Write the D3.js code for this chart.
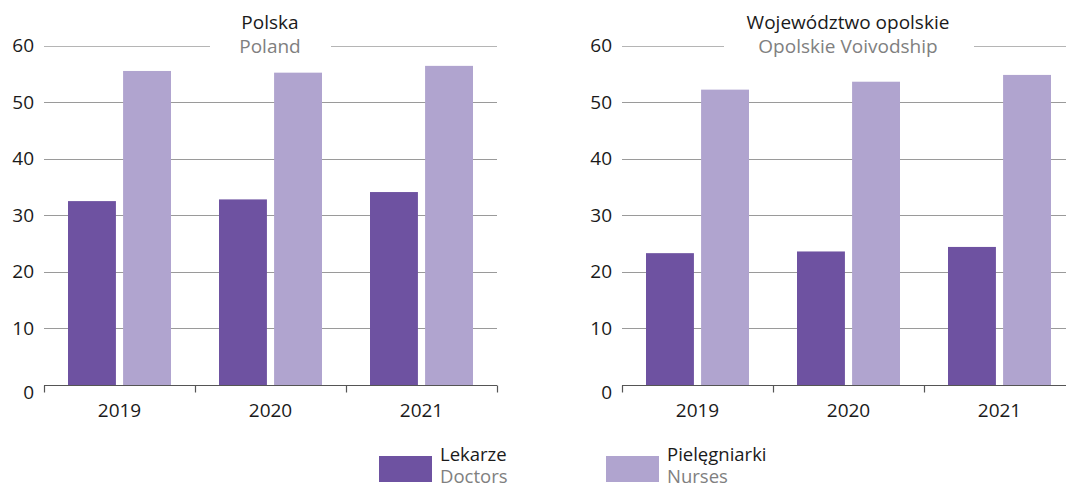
<!DOCTYPE html>
<html>
<head>
<meta charset="utf-8">
<script src="https://cdn.jsdelivr.net/npm/d3@7"></script>
<style>
  html, body { margin: 0; padding: 0; background: #fff; }
  svg { display: block; font-family: "Open Sans", "Noto Sans", sans-serif; }
</style>
</head>
<body>
<svg id="chart" width="1066" height="489"></svg>
<script>
// Years on the category axis
const years = ["2019", "2020", "2021"];
// Series keys and labels (Polish / English)
const seriesKeys = ["doctors", "nurses"];
const seriesLabelsPl = ["Lekarze", "Pielęgniarki"];
const seriesLabelsEn = ["Doctors", "Nurses"];
const seriesColors = ["#6e52a1", "#b0a4cf"];

// Poland
const polandDoctors = [32.5, 32.8, 34.1];
const polandNurses = [55.5, 55.2, 56.4];
// Opolskie Voivodship
const opolskieDoctors = [23.3, 23.6, 24.4];
const opolskieNurses = [52.2, 53.6, 54.8];

const yTicks = [0, 10, 20, 30, 40, 50, 60];

const FS = 19;

const panels = [
  { titlePl: "Polska", titleEn: "Poland", doctors: polandDoctors, nurses: polandNurses,
    x0: 44, x1: 497, gap: [210, 331], titleX: 270 },
  { titlePl: "Województwo opolskie", titleEn: "Opolskie Voivodship", doctors: opolskieDoctors, nurses: opolskieNurses,
    x0: 622, x1: 1075, gap: [724, 974], titleX: 848 }
];

const svg = d3.select("#chart");
const y = d3.scaleLinear().domain([0, 60]).range([385, 45.5]);

panels.forEach(p => {
  const g = svg.append("g");
  const x = d3.scaleBand().domain(years).range([p.x0, p.x1]).paddingInner(0).paddingOuter(0);
  const xs = d3.scaleBand().domain(seriesKeys).range([24, x.bandwidth() - 24]).paddingInner(0.13);

  // gridlines (the top one is broken around the title)
  yTicks.filter(t => t > 0).forEach(t => {
    const yy = Math.round(y(t)) + 0.5;
    if (t === 60) {
      g.append("line").attr("x1", p.x0).attr("x2", p.gap[0]).attr("y1", yy).attr("y2", yy)
        .attr("stroke", "#b5b5b5").attr("stroke-width", 1);
      g.append("line").attr("x1", p.gap[1]).attr("x2", p.x1).attr("y1", yy).attr("y2", yy)
        .attr("stroke", "#b5b5b5").attr("stroke-width", 1);
    } else {
      g.append("line").attr("x1", p.x0).attr("x2", p.x1).attr("y1", yy).attr("y2", yy)
        .attr("stroke", "#9a9a9a").attr("stroke-width", 1);
    }
  });

  // y tick labels
  g.selectAll(".ylab").data(yTicks).join("text")
    .attr("x", p.x0 - 10)
    .attr("y", d => y(d) + (d === 0 ? 7 : 0))
    .attr("dy", "0.35em")
    .attr("text-anchor", "end")
    .attr("font-size", FS)
    .attr("fill", "#1a1a1a")
    .text(d => d);

  // bars
  const rows = years.map((yr, i) => ({ yr, doctors: p.doctors[i], nurses: p.nurses[i] }));
  const grp = g.selectAll(".grp").data(rows).join("g")
    .attr("transform", d => `translate(${x(d.yr)},0)`);
  grp.selectAll("rect").data(d => seriesKeys.map((k, j) => ({ k, j, v: d[k] }))).join("rect")
    .attr("x", d => xs(d.k))
    .attr("width", xs.bandwidth())
    .attr("y", d => y(d.v))
    .attr("height", d => y(0) - y(d.v))
    .attr("fill", d => seriesColors[d.j]);

  // bottom axis with ticks at band boundaries
  const axisG = g.append("g").attr("transform", "translate(0,385.5)");
  axisG.append("line").attr("x1", p.x0).attr("x2", p.x1).attr("stroke", "#555").attr("stroke-width", 1.2);
  const bounds = years.map(yr => x(yr)).concat([p.x1]);
  axisG.selectAll(".tk").data(bounds).join("line")
    .attr("x1", d => Math.round(d) + 0.5).attr("x2", d => Math.round(d) + 0.5)
    .attr("y1", 0).attr("y2", 7).attr("stroke", "#555").attr("stroke-width", 1.2);
  axisG.selectAll(".xl").data(years).join("text")
    .attr("x", d => x(d) + x.bandwidth() / 2)
    .attr("y", 25).attr("dy", "0.35em")
    .attr("text-anchor", "middle").attr("font-size", FS).attr("fill", "#1a1a1a")
    .text(d => d);

  // title
  g.append("text").attr("x", p.titleX).attr("y", 22).attr("dy", "0.35em")
    .attr("text-anchor", "middle").attr("font-size", FS).attr("fill", "#1a1a1a").text(p.titlePl);
  g.append("text").attr("x", p.titleX).attr("y", 46).attr("dy", "0.35em")
    .attr("text-anchor", "middle").attr("font-size", FS).attr("fill", "#808080").text(p.titleEn);
});

// legend
const legendX = [379, 606];
const leg = svg.selectAll(".leg").data(seriesKeys).join("g")
  .attr("transform", (d, i) => `translate(${legendX[i]},456)`);
leg.append("rect").attr("width", 53).attr("height", 26).attr("fill", (d, i) => seriesColors[i]);
leg.append("text").attr("x", 61).attr("y", -1).attr("dy", "0.35em")
  .attr("font-size", 18.5).attr("fill", "#1a1a1a").text((d, i) => seriesLabelsPl[i]);
leg.append("text").attr("x", 61).attr("y", 21).attr("dy", "0.35em")
  .attr("font-size", 18.5).attr("fill", "#808080").text((d, i) => seriesLabelsEn[i]);
</script>
</body>
</html>
